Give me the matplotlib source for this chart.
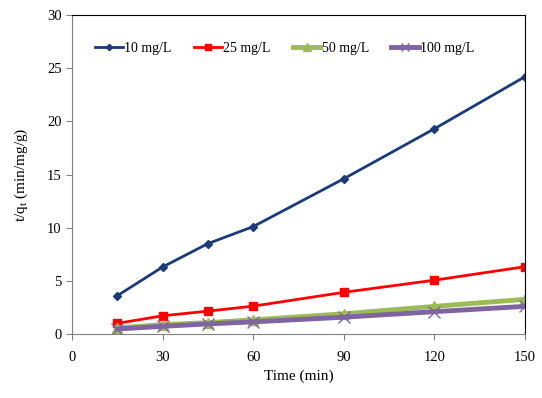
import matplotlib.pyplot as plt

plt.rcParams['font.family'] = ['Liberation Serif', 'DejaVu Serif']

time_min = [15, 30, 45, 60, 90, 120, 150]
c10 = [3.6, 6.3, 8.5, 10.1, 14.6, 19.3, 24.2]
c25 = [1.0, 1.71, 2.15, 2.62, 3.92, 5.06, 6.33]
c50 = [0.57, 0.88, 1.07, 1.33, 1.9, 2.6, 3.26]
c100 = [0.47, 0.72, 0.95, 1.14, 1.58, 2.1, 2.6]
labels = ['10 mg/L', '25 mg/L', '50 mg/L', '100 mg/L']

fig = plt.figure(figsize=(5.42, 3.98), dpi=100)
ax = fig.add_axes([0.1328, 0.1608, 0.8358, 0.8015])

ax.plot(time_min, c10, color='#1B3A78', lw=2, marker='D', ms=4, label=labels[0])
ax.plot(time_min, c25, color='#FF0000', lw=2, marker='s', ms=6, label=labels[1])
ax.plot(time_min, c50, color='#9BBB59', lw=3.5, marker='^', ms=7, label=labels[2])
ax.plot(time_min, c100, color='#8064A2', lw=3.5, marker='x', ms=8, mew=1.0, label=labels[3])

ax.set_xlim(0, 150)
ax.set_ylim(0, 30)
ax.set_xticks([0, 30, 60, 90, 120, 150])
ax.set_yticks(range(0, 31, 5))
ax.tick_params(direction='out', length=4, labelsize=10.5, color='#808080')
ax.tick_params(axis='x', pad=8)
for s in ['left', 'bottom']:
    ax.spines[s].set_color('#808080')
for s in ['top', 'right']:
    ax.spines[s].set_color('black')

ax.set_xlabel('Time (min)', fontsize=11)
ax.set_ylabel('t/q$_\\mathregular{t}$ (min/mg/g)', fontsize=11, labelpad=12)

leg = ax.legend(loc='upper center', ncol=4, frameon=False, fontsize=10,
                bbox_to_anchor=(0.47, 0.955), handlelength=2.0, columnspacing=1.6,
                handletextpad=0.1, markerscale=0.8)

fig.savefig('out.png', dpi=100)
